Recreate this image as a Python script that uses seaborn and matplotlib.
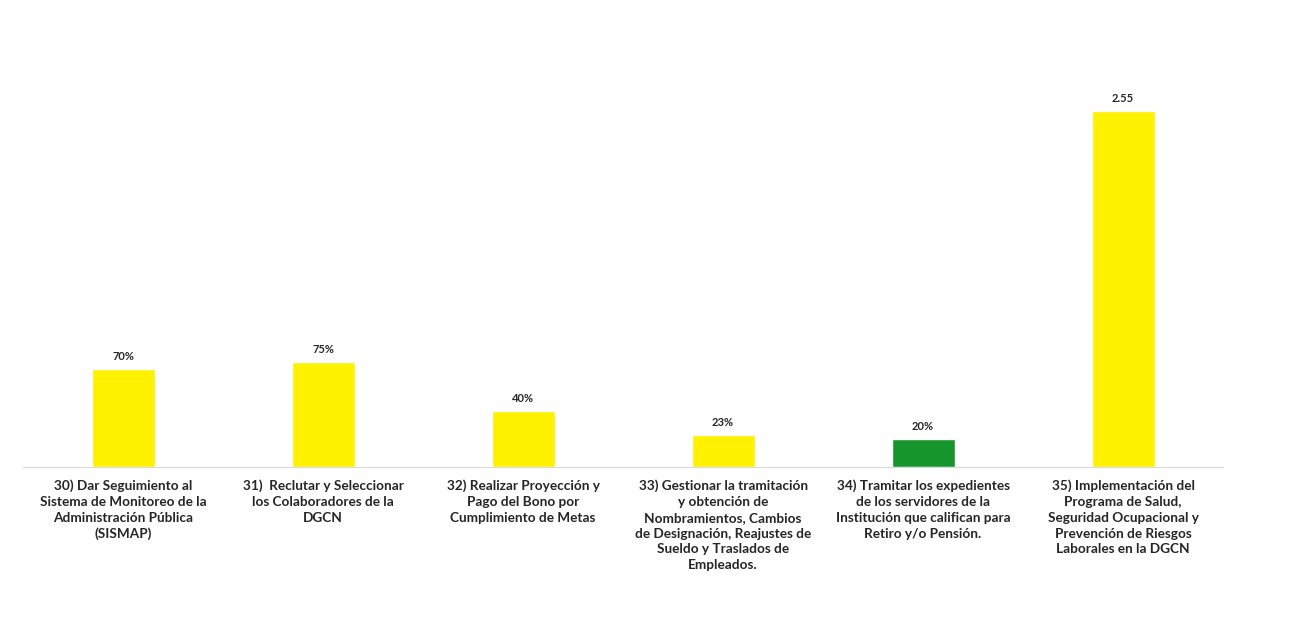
# %% Requirements and constants
import pandas as pd
import seaborn as sns
import matplotlib
matplotlib.use('Agg')
import matplotlib.pyplot as plt

categories = [
    '30) Dar Seguimiento al\nSistema de Monitoreo de la\nAdministración Pública\n(SISMAP)',
    '31)  Reclutar y Seleccionar\nlos Colaboradores de la\nDGCN',
    '32) Realizar Proyección y\nPago del Bono por\nCumplimiento de Metas',
    '33) Gestionar la tramitación\ny obtención de\nNombramientos, Cambios\nde Designación, Reajustes de\nSueldo y Traslados de\nEmpleados.',
    '34) Tramitar los expedientes\nde los servidores de la\nInstitución que califican para\nRetiro y/o Pensión.',
    '35) Implementación del\nPrograma de Salud,\nSeguridad Ocupacional y\nPrevención de Riesgos\nLaborales en la DGCN',
]
values = [0.70, 0.75, 0.40, 0.23, 0.20, 2.55]
value_labels = ['70%', '75%', '40%', '23%', '20%', '2.55']
bar_colors = ['#fff200', '#fff200', '#fff200', '#fff200', '#16952c', '#fff200']

df = pd.DataFrame({'actividad': categories, 'valor': values})

# %% Plot
sns.set_style('white')
plt.rcParams['font.family'] = ['Lato', 'DejaVu Sans']

fig = plt.figure(figsize=(13.02, 6.28), dpi=100)
ax = fig.add_axes([0.0177, 0.2564, 0.9217, 0.678])

sns.barplot(data=df, x='actividad', y='valor', hue='actividad',
            palette=bar_colors, width=0.315, legend=False, ax=ax,
            saturation=1)

for i, (v, lab) in enumerate(zip(values, value_labels)):
    ax.text(i, v + 0.05, lab, ha='center', va='bottom', fontsize=8,
            fontweight='bold', color='#262626')

ax.set_ylim(0, 3.05)
ax.set_xlim(-0.5, 5.5)
ax.set_xlabel('')
ax.set_ylabel('')
ax.set_yticks([])
for s in ['top', 'right', 'left']:
    ax.spines[s].set_visible(False)
ax.spines['bottom'].set_color('#d9d9d9')
ax.spines['bottom'].set_linewidth(0.8)
ax.tick_params(axis='x', length=0, pad=9)
for t in ax.get_xticklabels():
    t.set_fontsize(9.8)
    t.set_fontweight('bold')
    t.set_color('#262626')
    t.set_linespacing(1.38)

fig.savefig('out.png', dpi=100)
